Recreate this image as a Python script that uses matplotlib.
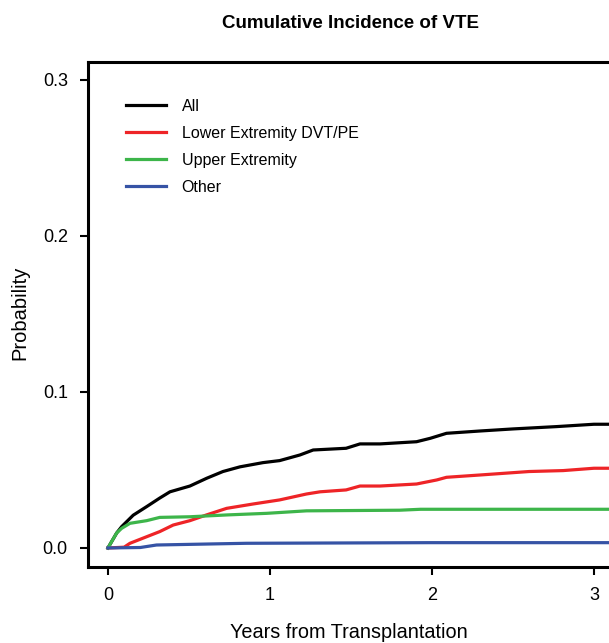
import matplotlib
matplotlib.use("Agg")
import matplotlib.pyplot as plt

plt.rcParams['font.family'] = ['Liberation Sans', 'DejaVu Sans']

# cumulative incidence (years, probability)
all_t = [0, 0.054, 0.085, 0.156, 0.239, 0.32, 0.383, 0.506, 0.61, 0.71, 0.815, 0.957, 1.06,
         1.185, 1.267, 1.47, 1.556, 1.68, 1.905, 1.99, 2.09, 2.30, 2.50, 2.77, 3.0, 3.2]
all_p = [0, 0.0096, 0.0137, 0.021, 0.0265, 0.032, 0.036, 0.0397, 0.0447, 0.049, 0.052, 0.0547, 0.056,
         0.0596, 0.0628, 0.0639, 0.0667, 0.0667, 0.0681, 0.0703, 0.0735, 0.075, 0.0763, 0.0778, 0.0793, 0.0793]

lower_t = [0, 0.1, 0.136, 0.239, 0.32, 0.403, 0.506, 0.609, 0.733, 0.897, 1.06, 1.226, 1.31, 1.47,
           1.556, 1.68, 1.905, 2.03, 2.09, 2.30, 2.60, 2.81, 3.0, 3.2]
lower_p = [0, 0.0005, 0.003, 0.0072, 0.0105, 0.0147, 0.0175, 0.0212, 0.0254, 0.0282, 0.0308, 0.0346, 0.036, 0.0372,
           0.0397, 0.0397, 0.041, 0.0436, 0.0453, 0.0468, 0.049, 0.0496, 0.0511, 0.0511]

upper_t = [0, 0.054, 0.085, 0.136, 0.239, 0.32, 0.506, 0.74, 0.98, 1.226, 1.80, 1.93, 3.2]
upper_p = [0, 0.0096, 0.0126, 0.0158, 0.0175, 0.0196, 0.020, 0.0212, 0.0222, 0.0238, 0.0242, 0.0248, 0.0248]

other_t = [0, 0.2, 0.30, 0.65, 0.855, 1.99, 3.2]
other_p = [0, 0.0003, 0.0019, 0.0026, 0.003, 0.0034, 0.0034]

labels = ["All", "Lower Extremity DVT/PE", "Upper Extremity", "Other"]
colors = ["#000000", "#ee2427", "#3db54a", "#3653a5"]

fig = plt.figure(figsize=(6.09, 6.43), dpi=100)
ax = fig.add_axes([88/609, 1 - 567/643, 1 - 88/609, (567 - 62)/643])

series = [(all_t, all_p), (lower_t, lower_p), (upper_t, upper_p), (other_t, other_p)]
for (t, p), lab, c in zip(series, labels, colors):
    ax.plot(t, p, color=c, lw=2.3, label=lab, solid_joinstyle='round')

ax.set_xlim(-0.123, 3.093)
ax.set_ylim(-0.0122, 0.3115)
ax.set_xticks([0, 1, 2, 3])
ax.set_yticks([0.0, 0.1, 0.2, 0.3])
ax.set_yticklabels(["0.0", "0.1", "0.2", "0.3"])
ax.tick_params(direction='out', length=6, width=1.5, pad=8.5, labelsize=13)
ax.spines['right'].set_visible(False)
for s in ['left', 'bottom', 'top']:
    ax.spines[s].set_linewidth(2.2)

ax.legend(loc='upper left', bbox_to_anchor=(0.06, 0.94), frameon=False, fontsize=11.5,
          handlelength=2.5, handletextpad=1.0, labelspacing=0.75, borderaxespad=0)

fig.text(351/609, 1 - 23/643, "Cumulative Incidence of VTE", ha='center', va='center',
         fontsize=13.5, fontweight='bold')
fig.text(349/609, 1 - 633/643, "Years from Transplantation", ha='center', va='center', fontsize=14.3)
fig.text(20/609, 1 - 313/643, "Probability", ha='center', va='center', rotation=90, fontsize=14.5)

fig.savefig("out.png", dpi=100)
